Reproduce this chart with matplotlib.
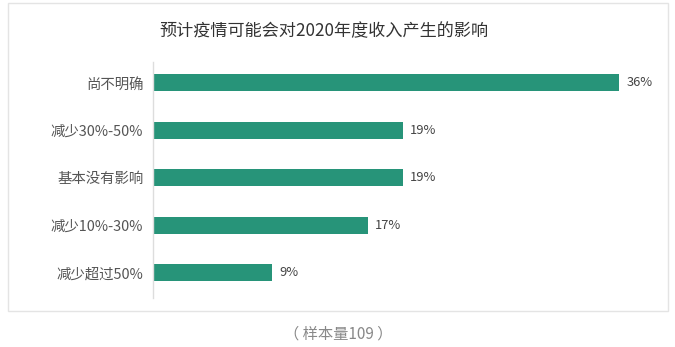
import numpy as np
import matplotlib.pyplot as plt
from matplotlib.patches import Rectangle

plt.rcParams['font.family'] = ['Noto Sans CJK SC', 'DejaVu Sans']

# 数据
categories = ['尚不明确', '减少30%-50%', '基本没有影响', '减少10%-30%', '减少超过50%']
values = [36, 19.3, 19.3, 16.6, 9.2]
value_labels = ['36%', '19%', '19%', '17%', '9%']
title = '预计疫情可能会对2020年度收入产生的影响'
footnote = '（ 样本量109 ）'

bar_color = '#279479'

fig = plt.figure(figsize=(6.75, 3.47), dpi=100)
W, H = 675, 347

# 外框
fig.patches.append(Rectangle((8 / W, 1 - 311 / H), 660 / W, 308 / H,
                             transform=fig.transFigure, fill=False,
                             edgecolor='#e4e4e4', linewidth=1))

ax = fig.add_axes([153 / W, 1 - 298 / H, 518 / W, 236 / H])
y = np.arange(len(categories))
ax.barh(y, values, height=0.36, color=bar_color)
ax.set_xlim(0, 40)
ax.set_ylim(4.53, -0.44)

for yi, v, lab in zip(y, values, value_labels):
    ax.text(v + 0.55, yi, lab, va='center', ha='left', fontsize=9.3, color='#444444')

ax.set_yticks(y)
ax.set_yticklabels(categories, fontsize=10.4, color='#555555')
ax.tick_params(axis='y', length=0, pad=7)
ax.set_xticks([])
for s in ['top', 'right', 'bottom']:
    ax.spines[s].set_visible(False)
ax.spines['left'].set_color('#dddddd')
ax.spines['left'].set_linewidth(1)

fig.text(324 / W, 1 - 31 / H, title, ha='center', va='center', fontsize=12.3, color='#333333')
fig.text(338 / W, 1 - 334 / H, footnote, ha='center', va='center', fontsize=11,
         color='#888888')

plt.savefig('out.png', dpi=100)
